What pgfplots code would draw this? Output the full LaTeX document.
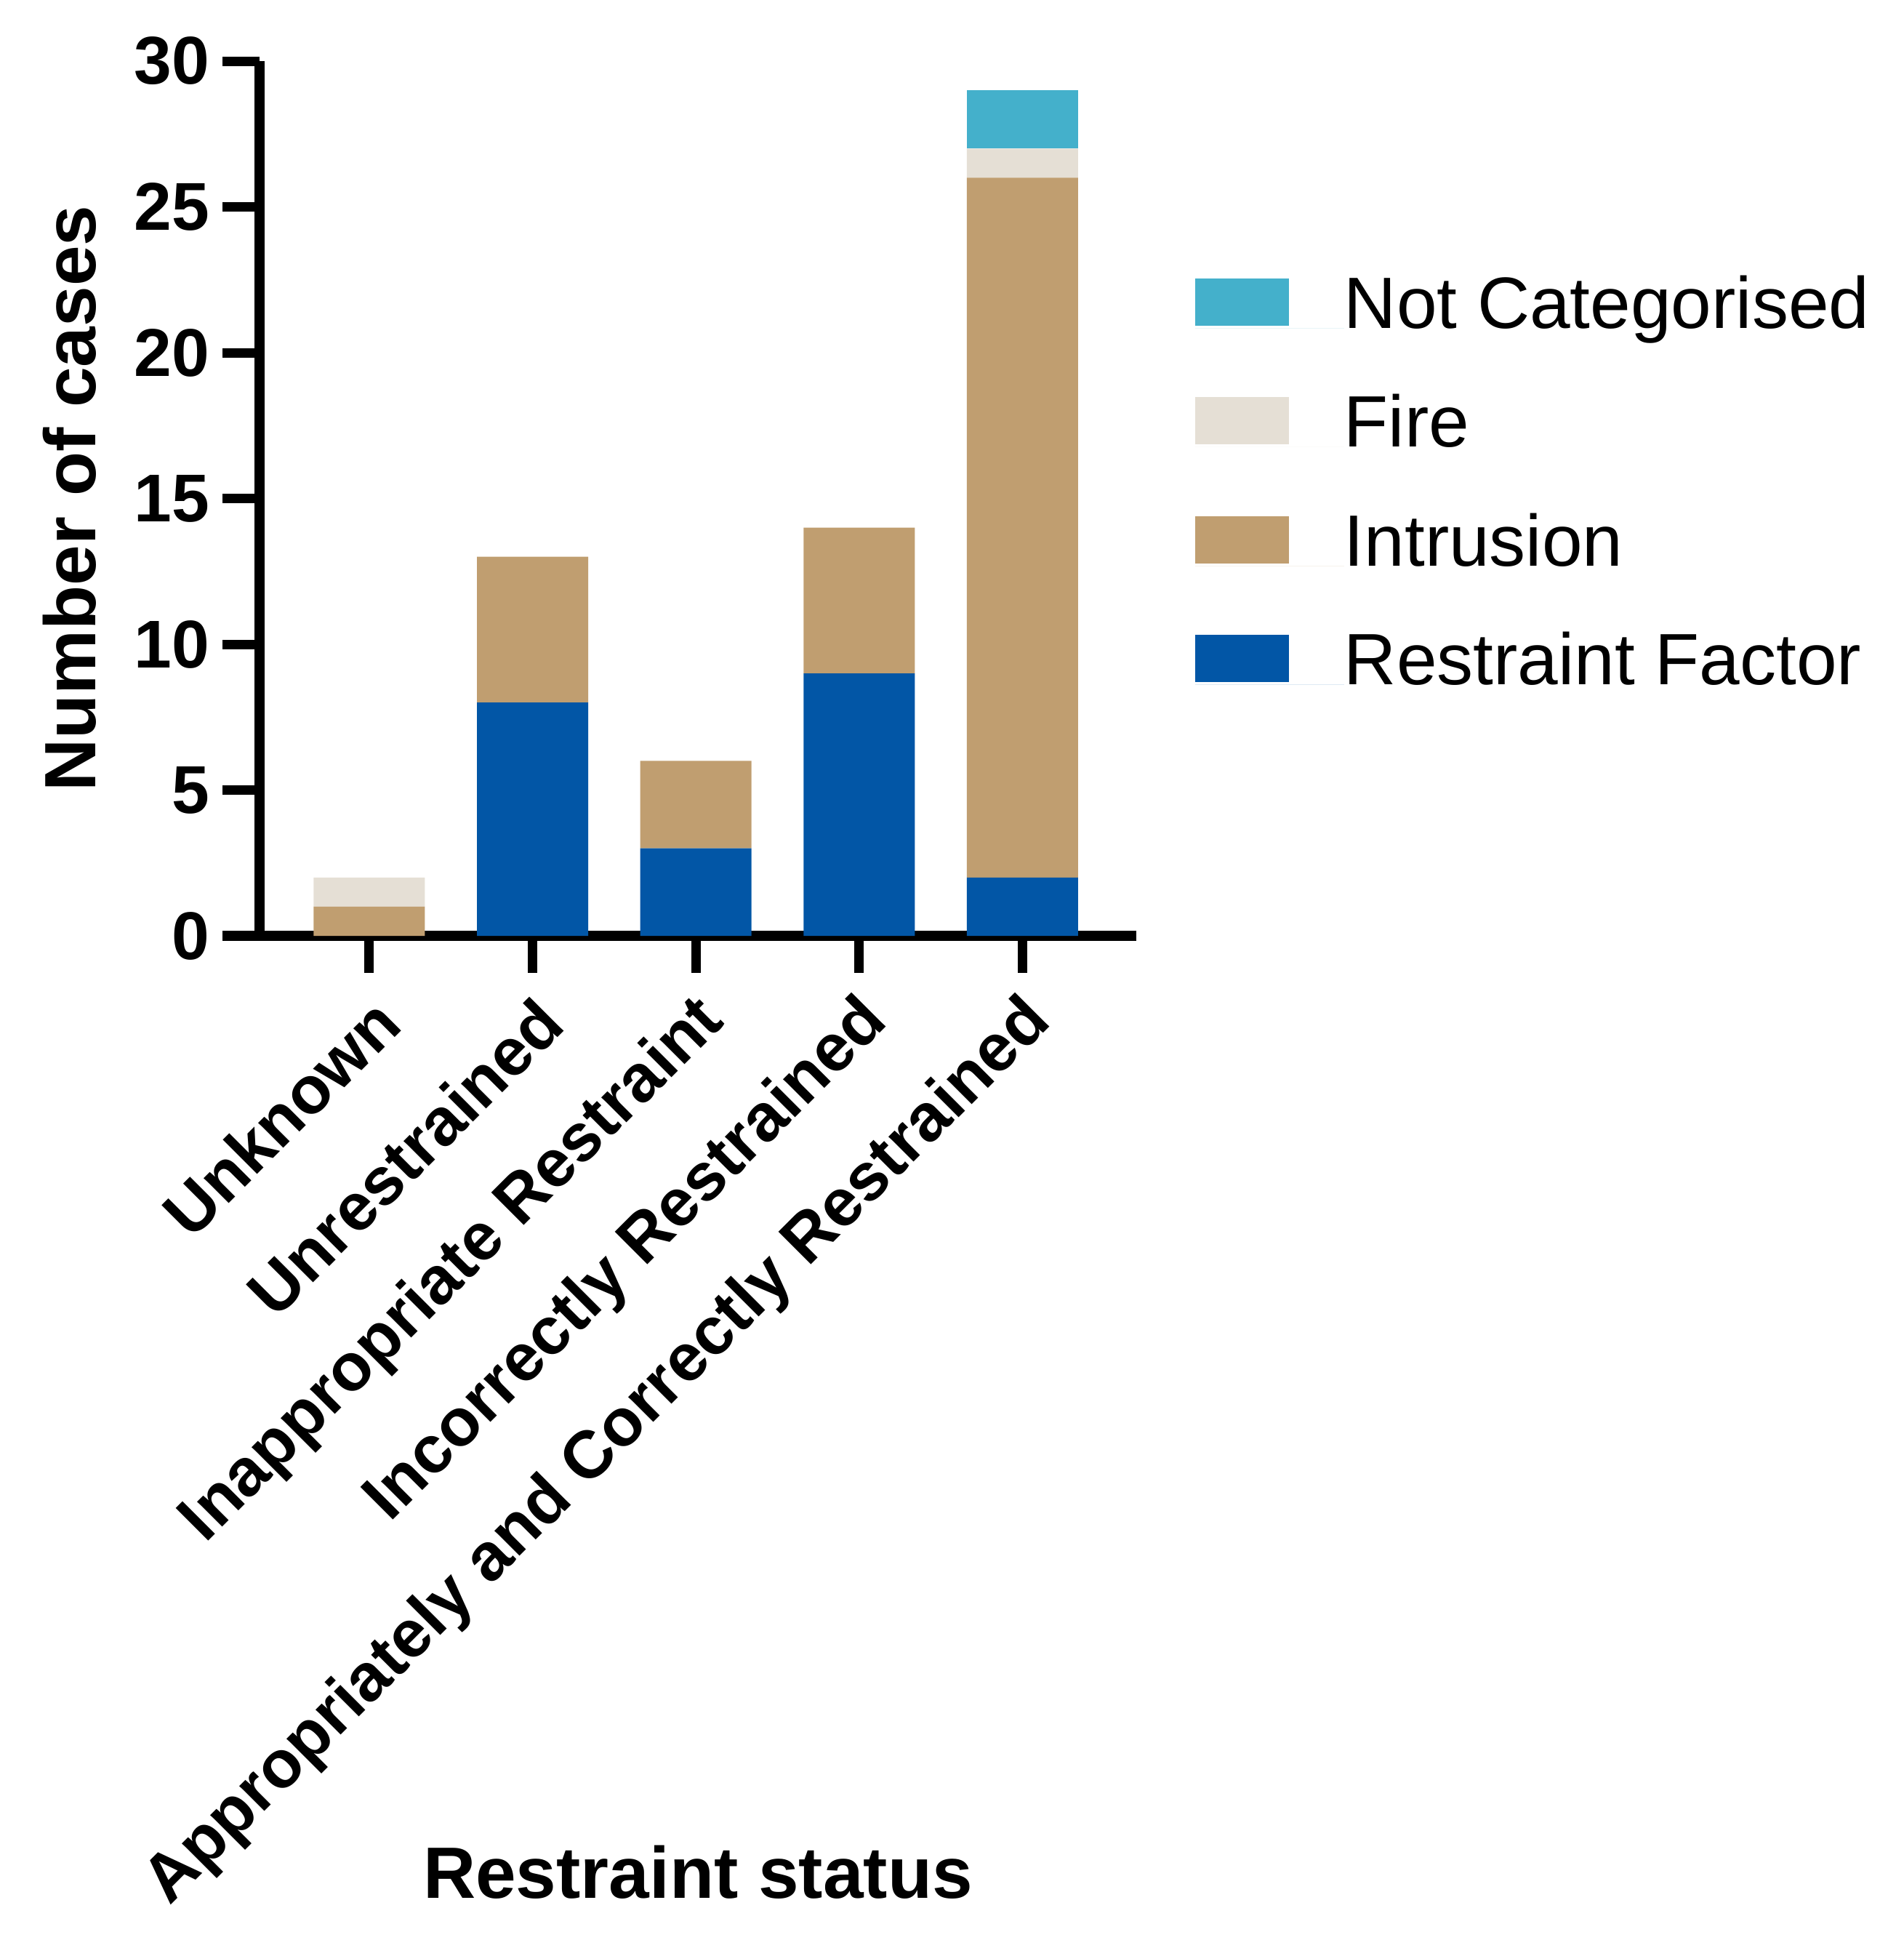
\documentclass[border=0pt]{standalone}
\usepackage{fontspec}
\setmainfont{Liberation Sans}
\usepackage{pgfplots}
\pgfplotsset{compat=1.18}
\definecolor{cRF}{RGB}{2,86,166}
\definecolor{cIN}{RGB}{192,158,112}
\definecolor{cFI}{RGB}{229,223,213}
\definecolor{cNC}{RGB}{68,176,203}
\begin{document}
\begin{tikzpicture}
\begin{axis}[
  name=ax,
  width=241.2pt, height=240.6pt, scale only axis,
  ybar stacked, bar width=0.681,
  xmin=-0.672, xmax=4.697, ymin=0, ymax=30,
  axis lines=left,
  axis line style={line width=2.7pt, -},
  x axis line style={shorten <=-10.2pt},
  every tick/.style={black, line width=2.6pt},
  major tick length=10.2pt, tick align=outside,
  xtick={0,1,2,3,4},
  xticklabels={Unknown, Unrestrained, Inappropriate Restraint, Incorrectly Restrained, Appropriately and Correctly Restrained},
  ytick={0,5,10,15,20,25,30},
  /pgf/number format/assume math mode=true,
  yticklabel style={font=\fontsize{18.6}{22}\selectfont\bfseries},
  xticklabel style={font=\fontsize{18.4}{22}\selectfont\bfseries, rotate=45, anchor=east, xshift=-0.4pt, yshift=-10.9pt},
  ylabel={Number of cases},
  ylabel style={font=\fontsize{20}{24}\selectfont\bfseries, at={(axis description cs:-0.217,0.5)}, anchor=center},
  xlabel={Restraint status},
  xlabel style={font=\fontsize{20}{24}\selectfont\bfseries, at={(axis description cs:0.5,-1.1)}, anchor=base},
  legend style={draw=none, fill=none, inner sep=0pt, outer sep=0pt, at={(1.067,0.5125)}, anchor=west,
    nodes={inner sep=0pt, text height=15pt, text depth=4.5pt, anchor=base west},
    font=\fontsize{20}{24}\selectfont, row sep=13.2pt},
  legend cell align=left,
  reverse legend,
  legend image code/.code={\fill[#1, draw=none] (0pt,0.7pt) rectangle (25.8pt,13.7pt); \path (0pt,0pt) -- (41pt,0pt);},
]
\addplot[fill=cRF, draw=none] coordinates {(0,0) (1,8) (2,3) (3,9) (4,2)};
\addlegendentry{Restraint Factor}
\addplot[fill=cIN, draw=none] coordinates {(0,1) (1,5) (2,3) (3,5) (4,24)};
\addlegendentry{Intrusion}
\addplot[fill=cFI, draw=none] coordinates {(0,1) (1,0) (2,0) (3,0) (4,1)};
\addlegendentry{Fire}
\addplot[fill=cNC, draw=none] coordinates {(0,0) (1,0) (2,0) (3,0) (4,2)};
\addlegendentry{Not Categorised}
\end{axis}
\pgfresetboundingbox
\path[use as bounding box] ([xshift=-71.4pt,yshift=-278.4pt]ax.south west) rectangle ([xshift=452.4pt,yshift=257.4pt]ax.south west);
\end{tikzpicture}
\end{document}
